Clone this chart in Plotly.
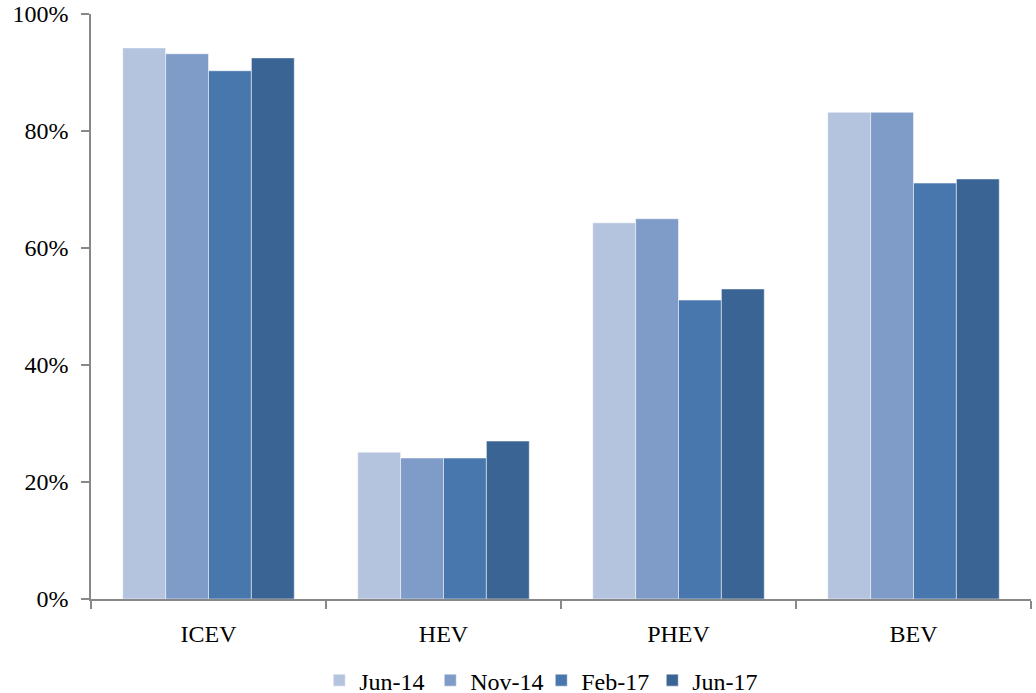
import plotly.graph_objects as go

categories = ["ICEV", "HEV", "PHEV", "BEV"]
series_names = ["Jun-14", "Nov-14", "Feb-17", "Jun-17"]
jun14 = [0.942, 0.251, 0.643, 0.832]
nov14 = [0.932, 0.241, 0.650, 0.832]
feb17 = [0.903, 0.241, 0.511, 0.711]
jun17 = [0.925, 0.270, 0.530, 0.718]
colors = ["#B4C3DE", "#7F9CC8", "#4877AE", "#3A6494"]

fig = go.Figure()
for name, vals, col in zip(series_names, [jun14, nov14, feb17, jun17], colors):
    fig.add_trace(go.Bar(
        x=categories, y=vals, name=name,
        marker=dict(color=col, line=dict(color="rgba(255,255,255,0.5)", width=1)),
    ))

font_family = "Liberation Serif"
fig.update_layout(
    width=1036, height=693,
    margin=dict(l=91, r=5, t=14, b=94, autoexpand=False),
    paper_bgcolor="white", plot_bgcolor="white",
    barmode="group", bargap=0.27, bargroupgap=0,
    font=dict(family=font_family, size=24, color="#000000"),
    showlegend=True,
    legend=dict(orientation="h", x=0.479, xanchor="center",
                yref="container", y=0.018, yanchor="middle",
                font=dict(size=24), itemwidth=30, entrywidth=66,
                traceorder="normal"),
)
fig.update_yaxes(
    range=[0, 1], tickformat=".0%", dtick=0.2,
    showgrid=False, zeroline=False, automargin=False,
    showline=True, linecolor="#888888", linewidth=1.5,
    ticks="outside", ticklen=8, tickcolor="#888888", tickwidth=1.5,
    ticklabelstandoff=8,
)
fig.update_xaxes(
    showgrid=False, showline=True, linecolor="#888888", linewidth=1.5,
    automargin=False,
    ticks="outside", tickson="boundaries", ticklen=8, tickcolor="#888888", tickwidth=1.5,
    ticklabelstandoff=12,
)
fig.write_html("out.html")
